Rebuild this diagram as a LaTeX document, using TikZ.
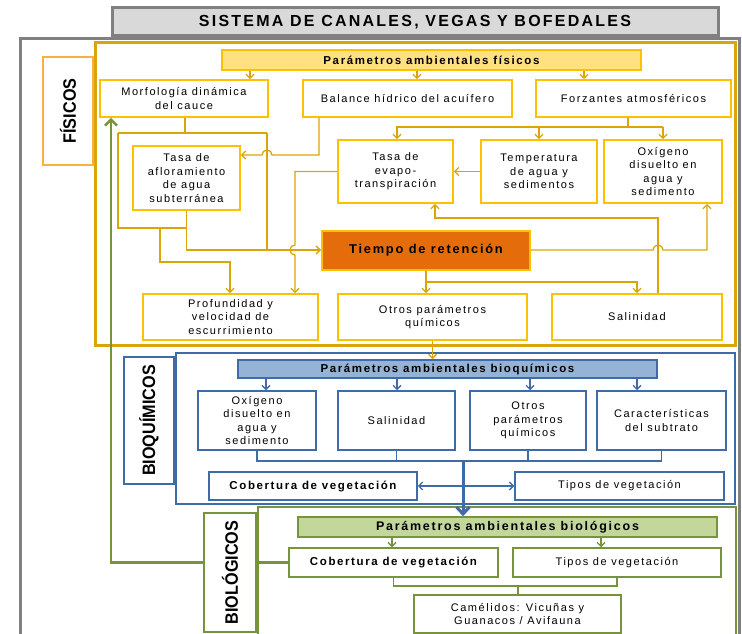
\documentclass[tikz,border=0pt]{standalone}
\usepackage{fontspec}
\setmainfont{Liberation Sans}[LetterSpace=14]
\newfontfamily\sidefont{Liberation Sans}[FakeStretch=0.9]
\usetikzlibrary{arrows.meta}

\definecolor{fisgold}{RGB}{218,165,10}
\definecolor{fisyellow}{RGB}{255,192,0}
\definecolor{fisfill}{RGB}{255,225,130}
\definecolor{fisorange}{RGB}{250,175,65}
\definecolor{retorange}{RGB}{228,108,10}
\definecolor{bqblue}{RGB}{62,108,168}
\definecolor{bqfill}{RGB}{149,179,215}
\definecolor{biogreen}{RGB}{119,147,60}
\definecolor{biofill}{RGB}{195,214,155}
\definecolor{framegray}{RGB}{128,128,128}
\definecolor{titlegray}{RGB}{217,217,217}

\tikzset{
  txt/.style={font=\fontsize{11}{13.5}\selectfont},
  txtb/.style={font=\bfseries\fontsize{11.5}{13}\selectfont},
  anybox/.style={fill=white, align=center, inner sep=0pt, txt},
  physbox/.style={anybox, draw=fisyellow, line width=1.8pt},
  chembox/.style={anybox, draw=bqblue, line width=1.5pt},
  biobox/.style={anybox, draw=biogreen, line width=1.5pt},
  physline/.style={draw=fisgold, line width=1.3pt},
  chemline/.style={draw=bqblue, line width=1.3pt},
  bioline/.style={draw=biogreen, line width=1.3pt},
  sidelabel/.style={fill=white, line width=1.5pt, rotate=90, inner sep=0pt,
    font=\sidefont\bfseries\fontsize{18}{18}\selectfont},
}

\begin{document}
\begin{tikzpicture}[x=1pt, y=-1pt, >={Straight Barb[length=4pt,width=8pt]}]
  \useasboundingbox (0,0) rectangle (742,634);

  % frames
  \draw[framegray, line width=3pt] (20,39) rectangle (739.5,650);
  \node[fill=titlegray, draw=framegray, line width=3pt, minimum width=606pt, minimum height=28pt,
    font=\bfseries\fontsize{16}{18}\selectfont] (title) at (415,22) {SISTEMA DE CANALES, VEGAS Y BOFEDALES};
  \draw[fisgold, line width=3pt] (95,43) rectangle (735,345);
  \draw[bqblue, line width=2pt] (176,353) rectangle (735,504);
  \draw[biogreen, line width=2pt] (258,507) rectangle (736,650);

  % fisicos
  \node[physbox, fill=fisfill, line width=1.5pt, txtb, minimum width=419pt, minimum height=20pt] (pfis) at (431.5,60) {Parámetros ambientales físicos};
  \node[physbox, minimum width=168pt, minimum height=37pt] (morf) at (184,98.5) {Morfología dinámica\\del cauce};
  \node[physbox, minimum width=209pt, minimum height=37pt] (bal) at (407.5,98.5) {Balance hídrico del acuífero};
  \node[physbox, minimum width=195pt, minimum height=37pt] (forz) at (633.5,98.5) {Forzantes atmosféricos};
  \node[physbox, minimum width=107pt, minimum height=64pt] (aflor) at (186.5,178) {Tasa de\\afloramiento\\de agua\\subterránea};
  \node[physbox, minimum width=115pt, minimum height=63pt] (evapo) at (395.5,171.5) {Tasa de\\evapo-\\transpiración};
  \node[physbox, minimum width=116pt, minimum height=63pt] (temp) at (539,171.5) {Temperatura\\de agua y\\sedimentos};
  \node[physbox, minimum width=118pt, minimum height=63pt] (oxif) at (663,171.5) {Oxígeno\\disuelto en\\agua y\\sedimento};
  \node[physbox, fill=retorange, line width=2pt, font=\bfseries\fontsize{12.8}{14}\selectfont,
    minimum width=208pt, minimum height=39pt] (tiempo) at (426,250) {Tiempo de retención};
  \node[physbox, minimum width=175pt, minimum height=46pt] (prof) at (230.5,317) {Profundidad y\\velocidad de\\escurrimiento};
  \node[physbox, minimum width=189pt, minimum height=46pt] (otrosf) at (432.5,317) {Otros parámetros\\químicos};
  \node[physbox, minimum width=170pt, minimum height=46pt] (salf) at (637,317) {Salinidad};

  % bioquimicos
  \node[chembox, fill=bqfill, txtb, minimum width=419pt, minimum height=18pt] (pbq) at (447.5,369) {Parámetros ambientales bioquímicos};
  \node[chembox, minimum width=118pt, minimum height=59pt] (oxq) at (257,420.5) {Oxígeno\\disuelto en\\agua y\\sedimento};
  \node[chembox, minimum width=117pt, minimum height=59pt] (salq) at (396.5,420.5) {Salinidad};
  \node[chembox, minimum width=116pt, minimum height=59pt] (otrq) at (528,420.5) {Otros\\parámetros\\químicos};
  \node[chembox, minimum width=129pt, minimum height=59pt] (carq) at (661.5,420.5) {Características\\del subtrato};
  \node[chembox, txtb, minimum width=208pt, minimum height=28pt] (cobq) at (313,486) {Cobertura de vegetación};
  \node[chembox, minimum width=209pt, minimum height=28pt] (tipq) at (619.5,486) {Tipos de vegetación};

  % biologicos
  \node[biobox, fill=biofill, txtb, font=\bfseries\fontsize{12.5}{14}\selectfont,
    minimum width=419pt, minimum height=20pt] (pbio) at (507.5,527) {Parámetros ambientales biológicos};
  \node[biobox, txtb, minimum width=209pt, minimum height=29pt] (cobb) at (393.5,562.5) {Cobertura de vegetación};
  \node[biobox, minimum width=208pt, minimum height=29pt] (tipb) at (617,562.5) {Tipos de vegetación};
  \node[biobox, minimum width=207pt, minimum height=38pt] (cam) at (517.5,614) {Camélidos: Vicuñas y\\Guanacos / Avifauna};

  % conectores fisicos
  \foreach \xx/\nn in {250/morf, 417/bal, 584/forz}
    \draw[physline,->] (pfis.south -| \xx,0) -- (\nn.north -| \xx,0);
  \coordinate (jm) at (185,133);
  \draw[physline] (morf.south -| jm) -- (jm);
  \draw[physline] (118,133) -- (267,133);
  \draw[physline] (118,133) |- (aflor.south |- 0,228);
  \draw[physline,->] (160,228) |- (230,262) -- (prof.north -| 230,0);
  \draw[physline] (267,133) -- (267,250);
  \draw[physline,->] (aflor.south) |- (tiempo.west);
  \draw[physline,->] (evapo.west) -| (295,245) arc[start angle=270, end angle=90, radius=5] -- (prof.north -| 295,0);
  \draw[physline,->] (bal.south -| 319,0) |- (272,155) arc[start angle=0, end angle=-180, radius=5] -- (aflor.east |- 0,155);
  \draw[physline] (forz.south -| 628,0) -- (628,127);
  \draw[physline,->] (oxif.north |- 0,127) -| (evapo.north -| 397,0);
  \draw[physline,->] (temp.north |- 0,127) -- (temp.north);
  \draw[physline,->] (oxif.north |- 0,127) -- (oxif.north);
  \draw[physline,->] (temp.west) -- (evapo.east);
  \draw[physline,->] (salf.north -| 658,0) |- (435,218) -- (evapo.south -| 435,0);
  \draw[physline,->] (tiempo.east) -- (653,250) arc[start angle=180, end angle=360, radius=5] -| (oxif.south -| 707,0);
  \coordinate (jt) at (426,282);
  \draw[physline] (tiempo.south) -- (jt);
  \draw[physline,->] (jt) -- (otrosf.north -| jt);
  \draw[physline,->] (jt) -| (salf.north);
  \draw[physline,->] (otrosf.south) -- (pbq.north -| otrosf.south);

  % conectores bioquimicos
  \foreach \xx/\nn in {266/oxq, 397/salq, 530/otrq, 637/carq}
    \draw[chemline,->] (pbq.south -| \xx,0) -- (\nn.north -| \xx,0);
  \draw[chemline] (oxq.south) |- (carq.south |- 0,461) -- (carq.south);
  \draw[chemline] (salq.south) -- (salq.south |- 0,461);
  \draw[chemline] (otrq.south) -- (otrq.south |- 0,461);
  \draw[chemline,<->] (cobq.east) -- (tipq.west);
  \draw[chemline, line width=3pt, -{Straight Barb[length=7pt,width=13pt]}] (463,461) -- (pbio.north -| 463,0);

  % conectores biologicos
  \draw[bioline,->] (pbio.south -| 392,0) -- (cobb.north -| 392,0);
  \draw[bioline,->] (pbio.south -| 601,0) -- (tipb.north -| 601,0);
  \draw[bioline] (cobb.south) |- (tipb.south |- 0,586) -- (tipb.south);
  \draw[bioline] (cam.north -| 518,0) -- (518,586);
  \draw[bioline, line width=2.5pt, -{Straight Barb[length=6pt,width=12pt]}] (cobb.west) -| (morf.south -| 111,0);

  % etiquetas laterales
  \node[sidelabel, draw=fisorange, minimum width=108pt, minimum height=50pt] (lfis) at (68,111) {FÍSICOS};
  \node[sidelabel, draw=bqblue, minimum width=127pt, minimum height=50pt] (lbq) at (149,420.5) {BIOQUÍMICOS};
  \node[sidelabel, draw=biogreen, minimum width=119pt, minimum height=52pt] (lbio) at (230,572.5) {BIOLÓGICOS};
\end{tikzpicture}
\end{document}
